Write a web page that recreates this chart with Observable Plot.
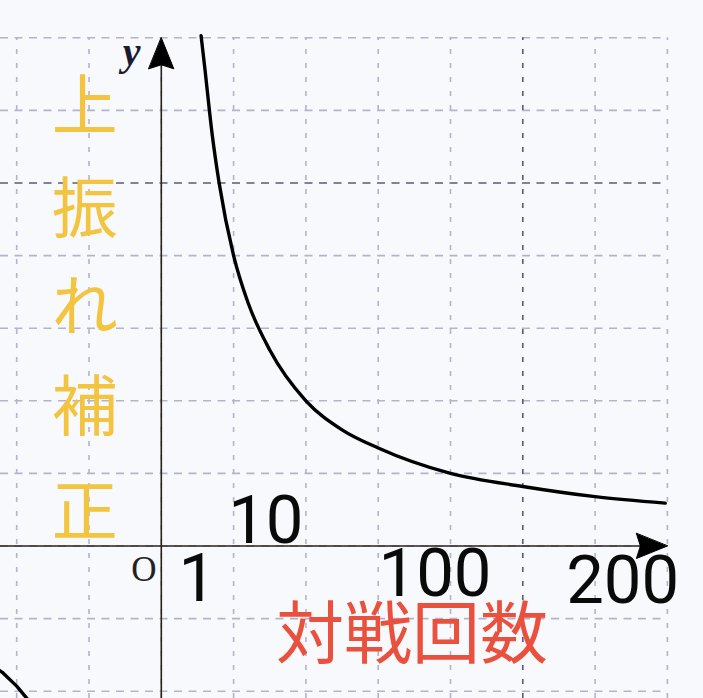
<!DOCTYPE html>
<html><head><meta charset="utf-8">
<script src="https://cdn.jsdelivr.net/npm/d3@7"></script>
<script src="https://cdn.jsdelivr.net/npm/@observablehq/plot@0.6"></script>
<style>
html,body{margin:0;padding:0;background:#f8f9fc;overflow:hidden;}
#chart svg{display:block;}
</style></head><body><div id="chart"></div>
<script>
// ---- data (grid units) ----
const curveX = [0.55, 0.6, 0.7, 0.8, 1.0, 1.2, 1.5, 2.0, 2.5, 3.0, 4.0, 5.0, 6.0, 6.97];
const curveY = [7.03, 6.6, 5.7, 5.0, 4.0, 3.35, 2.7, 2.0, 1.6, 1.35, 1.0, 0.82, 0.68, 0.59];
const branchX = [-2.4, -2.2, -2.0, -1.8];
const branchY = [-1.60, -1.74, -1.93, -2.17];
const gridX = [-2, -1, 0, 1, 2, 3, 4, 6, 7];
const gridY = [-2, -1, 0, 1, 2, 3, 4, 6, 7];
const majorX = [5];
const majorY = [5];
const tickLabels = ["1", "10", "100", "200"];
const yLabelChars = ["上", "振", "れ", "補", "正"];
const xLabel = "対戦回数";
const axisNameY = "y";
const originLabel = "O";

// ---- placement (grid units) ----
const tickLabelX = [0.497, 1.446, 3.785, 6.381];
const tickLabelY = [-0.752, 0.048, -0.682, -0.792];
const yLabelX = -1.06;
const yLabelBaselines = [5.738, 4.325, 2.975, 1.598, 0.158];
const gridMax = 7;

const W = 703, H = 698;
const xDomain = [-160.8 / 72.3, (W - 160.8) / 72.3];
const yDomain = [-(H - 545.5) / 72.6, 545.5 / 72.6];

const curve = curveX.map((x, i) => ({x, y: curveY[i]}));
const branch = branchX.map((x, i) => ({x, y: branchY[i]}));
const ticks = tickLabels.map((t, i) => ({t, x: tickLabelX[i], y: tickLabelY[i]}));
const yChars = yLabelChars.map((t, i) => ({t, x: yLabelX, y: yLabelBaselines[i]}));

const arrowShape = {
  draw(ctx, l) {
    const w = 12.5;
    ctx.moveTo(0, -l);
    ctx.lineTo(w, 0);
    ctx.lineTo(0, -4);
    ctx.lineTo(-w, 0);
    ctx.closePath();
  }
};

const lightGrid = "#b3b3cd", darkGrid = "#5a5a78";

const chart = Plot.plot({
  width: W, height: H, margin: 0,
  x: {domain: xDomain, axis: null},
  y: {domain: yDomain, axis: null},
  style: {background: "#f8f9fc"},
  marks: [
    Plot.ruleY(gridY, {y: d => d, x1: xDomain[0], x2: gridMax, stroke: lightGrid, strokeWidth: 1.6, strokeDasharray: "8,6.5"}),
    Plot.ruleX(gridX, {x: d => d, y1: yDomain[0], y2: gridMax, stroke: lightGrid, strokeWidth: 1.6, strokeDasharray: "5,9"}),
    Plot.ruleY(majorY, {y: d => d, x1: xDomain[0], x2: gridMax, stroke: darkGrid, strokeWidth: 1.6, strokeDasharray: "8,6.5"}),
    Plot.ruleX(majorX, {x: d => d, y1: yDomain[0], y2: gridMax, stroke: darkGrid, strokeWidth: 1.6, strokeDasharray: "5,9"}),
    // axes
    Plot.ruleY([0], {x1: xDomain[0], x2: gridMax - 0.3, stroke: "#2a211a", strokeWidth: 1.6}),
    Plot.ruleX([0], {y1: yDomain[0], y2: gridMax - 0.3, stroke: "#2a211a", strokeWidth: 1.6}),
    Plot.vector([{x: 0, y: gridMax}], {x: "x", y: "y", length: 31, rotate: 0, anchor: "end", shape: arrowShape, fill: "#000", stroke: "#000", strokeWidth: 1}),
    Plot.vector([{x: gridMax, y: 0}], {x: "x", y: "y", length: 31, rotate: 90, anchor: "end", shape: arrowShape, fill: "#000", stroke: "#000", strokeWidth: 1}),
    // curve
    Plot.line(curve, {x: "x", y: "y", curve: "monotone-x", stroke: "#000", strokeWidth: 3.4, clip: true}),
    Plot.line(branch, {x: "x", y: "y", curve: "linear", stroke: "#000", strokeWidth: 3.4, clip: true}),
    // labels
    Plot.text([axisNameY], {x: -0.41, y: 6.62, text: d => d, fontFamily: "Liberation Serif", fontStyle: "italic", fontWeight: "bold", fontSize: 40, fill: "#1a1a30", lineAnchor: "bottom"}),
    Plot.text([originLabel], {x: -0.24, y: -0.48, text: d => d, fontFamily: "Liberation Serif", fontSize: 35, fill: "#222", lineAnchor: "bottom"}),
    Plot.text(ticks, {x: "x", y: "y", text: "t", fontFamily: "Roboto", fontSize: 67, fill: "#0a0a0a", lineAnchor: "bottom"}),
    Plot.text([xLabel], {x: 3.467, y: -1.54, text: d => d, fontFamily: "Noto Sans CJK JP", fontSize: 68, fill: "#ea503e", lineAnchor: "bottom"}),
    Plot.text(yChars, {x: "x", y: "y", text: "t", fontFamily: "Noto Sans CJK JP", fontSize: 66, fill: "#f2c440", lineAnchor: "bottom"})
  ]
});
document.getElementById("chart").appendChild(chart);
</script>
</body></html>
